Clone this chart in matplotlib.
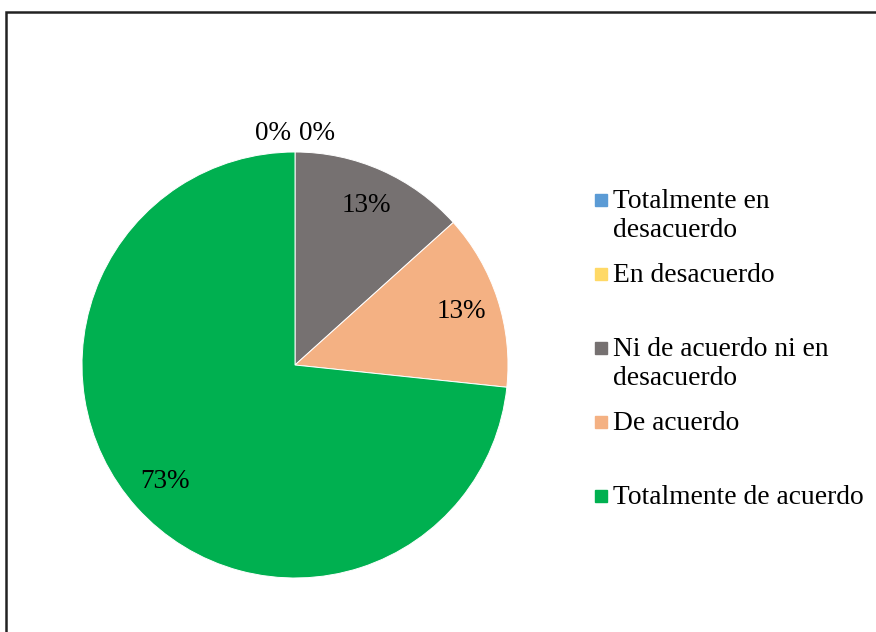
import numpy as np
import matplotlib.pyplot as plt
from matplotlib.patches import Rectangle

plt.rcParams['font.family'] = ['Liberation Serif', 'DejaVu Serif']

categories = ['Totalmente en\ndesacuerdo', 'En desacuerdo',
              'Ni de acuerdo ni en\ndesacuerdo', 'De acuerdo',
              'Totalmente de acuerdo']
counts = [0, 0, 2, 2, 11]
colors = ['#5B9BD5', '#FFD966', '#767171', '#F4B183', '#00B050']

W, H = 876, 632
fig = plt.figure(figsize=(W / 100, H / 100), dpi=100)
ax = fig.add_axes([0, 0, 1, 1])

# chart frame (runs off the right and bottom of the image)
ax.add_patch(Rectangle((6, -20), 900, H - 12 + 20, fill=False,
                       edgecolor='#222222', linewidth=1.8))

cx, cy, r = 295, H - 365, 213
wedges, texts, autotexts = ax.pie(
    counts, colors=colors, startangle=90, counterclock=False,
    center=(cx, cy), radius=r, autopct=lambda p: f'{p:.0f}%',
    pctdistance=0.82, frame=True,
    wedgeprops=dict(edgecolor='white', linewidth=0.7),
    textprops=dict(fontsize=19.5, color='black'))
ax.set_xlim(0, W)
ax.set_ylim(0, H)
ax.set_aspect('equal')
ax.axis('off')

# zero-value labels sit above the top of the pie, side by side
zero_idx = [i for i, c in enumerate(counts) if c == 0]
for k, i in enumerate(zero_idx):
    autotexts[i].set_position((cx + (k - 0.5) * 43, cy + r + 19))

# legend: markers evenly spaced, text hanging from the first line
leg_x, leg_top, leg_step = 601, H - 200, 74
for i, (lab, col) in enumerate(zip(categories, colors)):
    y = leg_top - i * leg_step
    ax.plot(leg_x, y, marker='s', markersize=8.5, color=col, linestyle='none')
    ax.text(leg_x + 12, y + 11, lab, fontsize=19.8, va='top', ha='left',
            linespacing=1.2)

fig.savefig('out.png', dpi=100)
